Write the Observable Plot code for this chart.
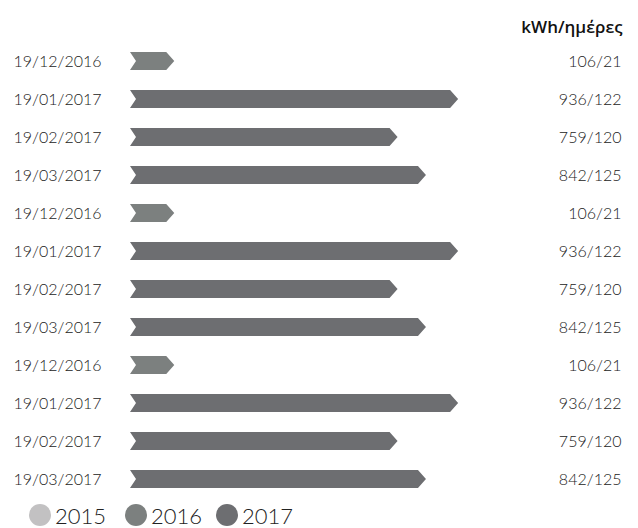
<!DOCTYPE html>
<html>
<head>
<meta charset="utf-8">
<script src="https://cdn.jsdelivr.net/npm/d3@7"></script>
<script src="https://cdn.jsdelivr.net/npm/@observablehq/plot@0.6"></script>
<style>
  html, body { margin: 0; padding: 0; background: #fff; }
  #wrap { position: relative; width: 638px; height: 528px; overflow: hidden; font-family: Lato, "Open Sans", sans-serif; }
  #legend { position: absolute; left: 0; top: 502px; width: 638px; height: 26px; }
  .li { position: absolute; top: 0; height: 26px; display: flex; align-items: center; font-size: 22px; font-weight: 300; color: #222; }
  .dot { width: 22px; height: 22px; border-radius: 50%; display: inline-block; }
</style>
</head>
<body>
<div id="wrap"><div id="chart"></div><div id="legend"></div></div>
<script>
const dates = ["19/12/2016","19/01/2017","19/02/2017","19/03/2017","19/12/2016","19/01/2017","19/02/2017","19/03/2017","19/12/2016","19/01/2017","19/02/2017","19/03/2017"];
const kwh = [106,936,759,842,106,936,759,842,106,936,759,842];
const days = [21,122,120,125,21,122,120,125,21,122,120,125];
const years = [2016,2017,2017,2017,2016,2017,2017,2017,2016,2017,2017,2017];
const legendYears = [2015, 2016, 2017];
const yearColors = ["#c2c1c2", "#7c807f", "#6d6e71"];
const unitLabel = "kWh/ημέρες";

const rows = dates.map((d, i) => ({i, date: d, kwh: kwh[i], days: days[i], year: years[i]}));

function arrowRender(index, scales, values, dimensions, context, next) {
  const g = next(index, scales, values, dimensions, context);
  d3.select(g).selectAll("rect").each(function() {
    const r = d3.select(this);
    const x = +r.attr("x"), y = +r.attr("y"), w = +r.attr("width"), h = +r.attr("height");
    const notch = 6, tip = 8, ym = y + h / 2;
    const p = d3.path();
    p.moveTo(x, y);
    p.lineTo(x + w, y);
    p.lineTo(x + w + tip, ym);
    p.lineTo(x + w, y + h);
    p.lineTo(x, y + h);
    p.lineTo(x + notch, ym);
    p.closePath();
    const path = document.createElementNS("http://www.w3.org/2000/svg", "path");
    path.setAttribute("d", p.toString());
    path.setAttribute("fill", r.attr("fill"));
    this.parentNode.replaceChild(path, this);
  });
  return g;
}

const chart = Plot.plot({
  width: 638,
  height: 502,
  marginLeft: 130,
  marginRight: 166,
  marginTop: 49.6,
  marginBottom: 10.8,
  style: {fontFamily: "Lato, 'Open Sans', sans-serif", color: "#222"},
  x: {domain: [0, 1000], axis: null},
  y: {domain: rows.map(d => d.i), axis: null, paddingInner: 0.53, paddingOuter: 0},
  color: {type: "ordinal", domain: legendYears, range: yearColors},
  marks: [
    Plot.barX(rows, {x: "kwh", y: "i", fill: "year", render: arrowRender}),
    Plot.text(rows, {y: "i", text: "date", frameAnchor: "left", textAnchor: "start", dx: -117, fontSize: 16, fontWeight: 300, fill: "#222"}),
    Plot.text(rows, {y: "i", text: d => `${d.kwh}/${d.days}`, frameAnchor: "right", textAnchor: "end", dx: 149, fontSize: 16, fontWeight: 300, fill: "#222"}),
    Plot.text([unitLabel], {frameAnchor: "top-right", textAnchor: "end", dx: 150, dy: -29, fontSize: 17, fontWeight: 600, fontFamily: "'Open Sans', sans-serif", fill: "#111"})
  ]
});
document.getElementById("chart").appendChild(chart);

const leg = document.getElementById("legend");
const legX = [29, 125, 216];
legendYears.forEach((yr, k) => {
  const item = document.createElement("div");
  item.className = "li";
  item.style.left = legX[k] + "px";
  item.innerHTML = `<span class="dot" style="background:${yearColors[k]}"></span><span style="margin-left:4px">${yr}</span>`;
  leg.appendChild(item);
});
</script>
</body>
</html>
